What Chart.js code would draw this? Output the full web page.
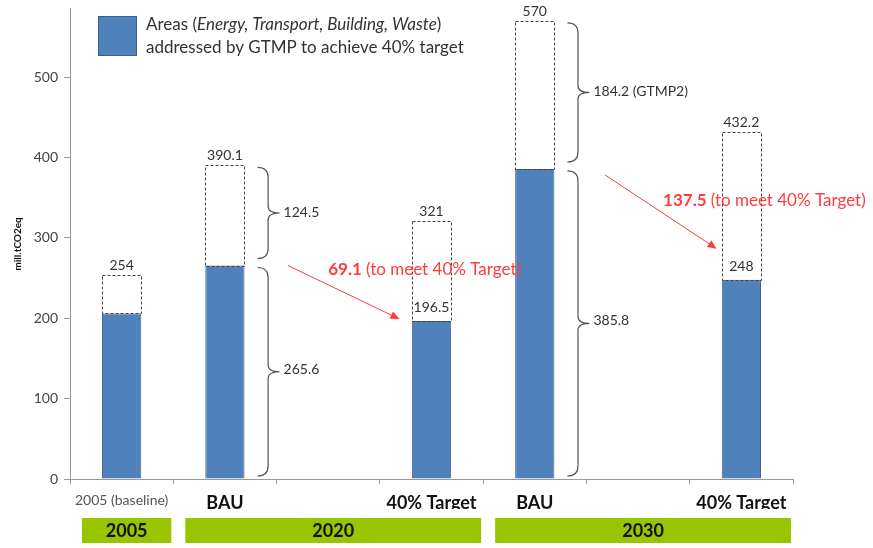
<!DOCTYPE html>
<html>
<head>
<meta charset="utf-8">
<script src="https://cdn.jsdelivr.net/npm/chart.js@4.4.1/dist/chart.umd.min.js"></script>
<style>
  html, body { margin: 0; padding: 0; background: #fff; }
  #wrap { width: 873px; height: 548px; position: relative; }
</style>
</head>
<body>
<div id="wrap"><canvas id="ghgChart"></canvas></div>
<script>
// emissions, mill. tCO2eq
const categories = ['2005 (baseline)', 'BAU', '', '40% Target', 'BAU', '', '40% Target'];
const addressed  = [206, 265.6, null, 196.5, 385.8, null, 248];   // blue part (GTMP areas)
const totals     = [254, 390.1, null, 321, 570, null, 432.2];     // top of dashed box
const yTicks     = [0, 100, 200, 300, 400, 500];
const periods    = ['2005', '2020', '2030'];
const periodFrom = [0, 1, 4];
const periodTo   = [0, 3, 6];
const reductions = ['69.1', '137.5'];
const braceNotes = [null, '', null, null, ' (GTMP2)', null, null];

const remaining = totals.map((t, i) => t == null ? null : +(t - addressed[i]).toFixed(1));

const FONT = 'Lato, "Open Sans", sans-serif';
const BLUE = '#4f81bd';

function brace(ctx, x, yTop, yBot, w) {
  const xm = x + w * 0.48;
  const ym = (yTop + yBot) / 2;
  const r = Math.min(10, (yBot - yTop) / 4);
  ctx.beginPath();
  ctx.moveTo(x, yTop);
  ctx.quadraticCurveTo(xm, yTop, xm, yTop + r);
  ctx.lineTo(xm, ym - r * 0.7);
  ctx.quadraticCurveTo(xm, ym, x + w, ym);
  ctx.quadraticCurveTo(xm, ym, xm, ym + r * 0.7);
  ctx.lineTo(xm, yBot - r);
  ctx.quadraticCurveTo(xm, yBot, x, yBot);
  ctx.stroke();
}

function arrow(ctx, x1, y1, x2, y2) {
  const a = Math.atan2(y2 - y1, x2 - x1);
  ctx.beginPath();
  ctx.moveTo(x1, y1);
  ctx.lineTo(x2 - 6 * Math.cos(a), y2 - 6 * Math.sin(a));
  ctx.stroke();
  ctx.beginPath();
  ctx.moveTo(x2, y2);
  ctx.lineTo(x2 - 9 * Math.cos(a) + 4 * Math.sin(a), y2 - 9 * Math.sin(a) - 4 * Math.cos(a));
  ctx.lineTo(x2 - 9 * Math.cos(a) - 4 * Math.sin(a), y2 - 9 * Math.sin(a) + 4 * Math.cos(a));
  ctx.closePath();
  ctx.fill();
}

function redNote(ctx, x, y, num) {
  ctx.textBaseline = 'middle';
  ctx.textAlign = 'left';
  ctx.fillStyle = '#ff3b3b';
  ctx.font = 'bold 17px ' + FONT;
  ctx.fillText(num, x, y);
  const w = ctx.measureText(num + ' ').width;
  ctx.font = '17px ' + FONT;
  ctx.fillText('(to meet 40% Target)', x + w, y);
}

const annotations = {
  id: 'annotations',
  afterDatasetsDraw(chart) {
    const { ctx, scales: { x, y } } = chart;
    const rest = chart.getDatasetMeta(1).data;
    const cw = x.getPixelForValue(1) - x.getPixelForValue(0);
    ctx.save();

    // dashed outline for the part still to be addressed
    ctx.strokeStyle = '#444';
    ctx.lineWidth = 1;
    ctx.setLineDash([3, 2]);
    rest.forEach((el, i) => {
      if (totals[i] == null) return;
      const l = Math.round(el.x - el.width / 2) + 0.5;
      const t = Math.round(el.y) + 0.5;
      ctx.strokeRect(l, t, Math.round(el.width), Math.round(el.base) - Math.round(el.y));
    });
    ctx.setLineDash([]);

    // value labels
    ctx.fillStyle = '#333';
    ctx.font = '14px ' + FONT;
    ctx.textAlign = 'center';
    ctx.textBaseline = 'alphabetic';
    rest.forEach((el, i) => {
      if (totals[i] == null) return;
      ctx.fillText(String(totals[i]), el.x, el.y - 5);
      if (categories[i] === '40% Target') {
        ctx.fillText(String(addressed[i]), el.x, el.base - 9);
      }
    });

    // braces beside the BAU bars
    ctx.strokeStyle = '#555';
    ctx.lineWidth = 1.2;
    ctx.textAlign = 'left';
    ctx.textBaseline = 'middle';
    rest.forEach((el, i) => {
      if (braceNotes[i] == null) return;
      const bx = el.x + el.width / 2 + 13;
      const yTot = y.getPixelForValue(totals[i]);
      const yAdd = y.getPixelForValue(addressed[i]);
      const y0 = y.getPixelForValue(0);
      brace(ctx, bx, yTot + 2, yAdd - 7, 22);
      brace(ctx, bx, yAdd + 2, y0 - 3, 22);
      ctx.fillText(remaining[i].toFixed(1) + braceNotes[i], bx + 26, (yTot + yAdd) / 2 - 3);
      ctx.fillText(addressed[i].toFixed(1), bx + 26, (yAdd + y0) / 2 - 3);
    });

    // red arrows from BAU to target
    ctx.strokeStyle = '#ff3b3b';
    ctx.fillStyle = '#ff3b3b';
    ctx.lineWidth = 1;
    const c = i => x.getPixelForValue(i);
    arrow(ctx, c(1) + 0.61 * cw, y.getPixelForValue(addressed[1]), c(3) - 0.31 * cw, y.getPixelForValue(addressed[3]) - 2);
    arrow(ctx, c(4) + 0.68 * cw, y.getPixelForValue(addressed[4]) + 6, c(6) - 0.24 * cw, y.getPixelForValue(addressed[6]) - 31);
    redNote(ctx, c(2), y.getPixelForValue(261), reductions[0]);
    redNote(ctx, c(5) + 25, y.getPixelForValue(346), reductions[1]);

    ctx.restore();
  },
  afterDraw(chart) {
    const { ctx, scales: { x }, chartArea } = chart;
    const cw = x.getPixelForValue(1) - x.getPixelForValue(0);
    ctx.save();

    // legend
    const lx = chartArea.left + 28, ly = 16;
    ctx.fillStyle = BLUE;
    ctx.fillRect(lx, ly, 39, 40);
    ctx.strokeStyle = '#3a5f8c';
    ctx.lineWidth = 1;
    ctx.strokeRect(lx + 0.5, ly + 0.5, 38, 39);
    ctx.fillStyle = '#333';
    ctx.textAlign = 'left';
    ctx.textBaseline = 'middle';
    let tx = lx + 48;
    const parts = [['Areas (', ''], ['Energy, Transport, Building, Waste', 'italic '], [')', '']];
    parts.forEach(([s, st]) => {
      ctx.font = st + '17px ' + FONT;
      ctx.fillText(s, tx, ly + 9);
      tx += ctx.measureText(s).width;
    });
    ctx.font = '17px ' + FONT;
    ctx.fillText('addressed by GTMP to achieve 40% target', lx + 48, ly + 32);

    // period bands under the axis
    periods.forEach((p, k) => {
      const l = x.getPixelForValue(periodFrom[k]) - cw / 2 + 12;
      const r = x.getPixelForValue(periodTo[k]) + cw / 2 - 2;
      ctx.fillStyle = '#99c400';
      ctx.fillRect(l, 518, r - l, 25);
      ctx.fillStyle = '#111';
      ctx.font = 'bold 18px ' + FONT;
      ctx.textAlign = 'center';
      ctx.fillText(p, (l + r) / 2, 531);
    });
    ctx.restore();
  }
};

new Chart(document.getElementById('ghgChart'), {
  type: 'bar',
  data: {
    labels: categories,
    datasets: [
      { label: 'Areas addressed by GTMP', data: addressed, backgroundColor: BLUE,
        borderColor: '#44628a', borderWidth: 1, barPercentage: 0.38, categoryPercentage: 1 },
      { label: 'Remaining', data: remaining, backgroundColor: 'rgba(0,0,0,0)',
        borderWidth: 0, barPercentage: 0.38, categoryPercentage: 1 }
    ]
  },
  options: {
    responsive: true,
    maintainAspectRatio: false,
    animation: false,
    layout: { padding: { left: 0, right: 80, top: 5, bottom: 39 } },
    plugins: { legend: { display: false }, tooltip: { enabled: false } },
    scales: {
      x: {
        stacked: true,
        afterFit: s => { s.height = 30; },
        border: { color: '#999' },
        grid: { drawOnChartArea: false, tickLength: 5, color: '#999', offset: true },
        ticks: {
          padding: 8,
          color: ctx => ctx.index === 0 ? '#555' : '#111',
          font: ctx => ctx.index === 0
            ? { family: FONT, size: 14 }
            : { family: FONT, size: 18, weight: 'bold' }
        }
      },
      y: {
        stacked: true,
        min: 0,
        max: 585,
        afterFit: s => { s.width = 70; },
        afterBuildTicks: s => { s.ticks = yTicks.map(v => ({ value: v })); },
        border: { color: '#999' },
        grid: { drawOnChartArea: false, tickLength: 6, color: '#999' },
        ticks: { color: '#444', font: { family: FONT, size: 14, lineHeight: 0.4 }, padding: 6 },
        title: { display: true, text: 'mill.tCO2eq', color: '#111',
                 font: { family: FONT, size: 10, weight: 'bold' }, padding: { top: 12, bottom: 4 } }
      }
    }
  },
  plugins: [annotations]
});
</script>
</body>
</html>
